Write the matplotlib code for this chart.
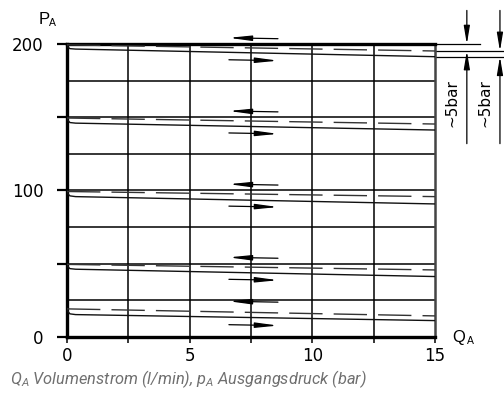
import matplotlib
matplotlib.use('Agg')
import matplotlib.pyplot as plt

plt.rcParams['mathtext.fontset'] = 'custom'
plt.rcParams['mathtext.it'] = 'Roboto:italic'
plt.rcParams['mathtext.rm'] = 'Roboto'

# flow Q_A (l/min) and outlet pressure p_A (bar)
x_hook = [0, 0.03, 0.12, 0.35, 15]
x_dash = [0, 15]

solid_200 = [200, 198.0, 196.9, 196.6, 191.4]
dash_200 = [199.5, 195.3]
solid_150 = [150, 148.0, 146.4, 146.0, 141.3]
dash_150 = [149.5, 145.4]
solid_100 = [100, 97.8, 96.3, 95.8, 90.8]
dash_100 = [99.3, 95.8]
solid_50 = [50, 48.0, 46.6, 46.2, 41.2]
dash_50 = [49.5, 45.7]
solid_20 = [19.6, 17.5, 15.7, 15.2, 11.1]
dash_20 = [19.1, 14.3]

solids = [solid_200, solid_150, solid_100, solid_50, solid_20]
dashes = [dash_200, dash_150, dash_100, dash_50, dash_20]
arrow_left_y = [204, 154, 104, 54, 24]
arrow_right_y = [189, 139, 89, 39, 8]

fig = plt.figure(figsize=(5.04, 4.01), dpi=100)
ax = fig.add_axes([0.133, 0.160, 0.730, 0.730])
ax.set_xlim(0, 15)
ax.set_ylim(0, 200)

# grid
for gx in [2.5, 5, 7.5, 10, 12.5]:
    ax.axvline(gx, color='black', lw=1.1, zorder=1)
for gy in [25, 50, 75, 100, 125, 150, 175]:
    ax.axhline(gy, color='black', lw=1.1, zorder=1)

for s, d in zip(solids, dashes):
    ax.plot(x_hook, s, color='#111111', lw=1.0, zorder=3)
    ax.plot(x_dash, d, color='#333333', lw=1.0, dashes=(24, 8), zorder=3)

aprops = dict(arrowstyle='-|>,head_length=1.1,head_width=0.13',
              color='black', lw=0.9, mutation_scale=12, shrinkA=0, shrinkB=0)
for yl, yr in zip(arrow_left_y, arrow_right_y):
    ax.annotate('', xy=(6.6, yl + 0.3), xytext=(8.6, yl - 0.3), arrowprops=aprops,
                annotation_clip=False)
    ax.annotate('', xy=(8.6, yr - 0.3), xytext=(6.6, yr + 0.3), arrowprops=aprops,
                annotation_clip=False)

# ~5bar dimensions on the right
top_d = dash_200[-1]
top_s = solid_200[-1]
ax.plot([15, 16.85], [200, 200], color='black', lw=0.9, clip_on=False)
ax.plot([15, 17.85], [top_d, top_d], color='black', lw=0.9, clip_on=False)
ax.plot([15, 17.85], [top_s, top_s], color='black', lw=0.9, clip_on=False)
dprops = dict(arrowstyle='-|>,head_length=0.9,head_width=0.15',
              color='black', lw=0.9, mutation_scale=12, shrinkA=0, shrinkB=0)
ax.annotate('', xy=(16.3, 200), xytext=(16.3, 223), arrowprops=dprops,
            annotation_clip=False)
ax.annotate('', xy=(16.3, top_d), xytext=(16.3, 132), arrowprops=dprops,
            annotation_clip=False)
ax.annotate('', xy=(17.65, top_d), xytext=(17.65, 223), arrowprops=dprops,
            annotation_clip=False)
ax.annotate('', xy=(17.65, top_s), xytext=(17.65, 132), arrowprops=dprops,
            annotation_clip=False)
ax.text(15.7, 160, '~5bar', rotation=90, ha='center', va='center',
        fontsize=11, clip_on=False)
ax.text(17.05, 160, '~5bar', rotation=90, ha='center', va='center',
        fontsize=11, clip_on=False)

# axes frame
for side in ['top', 'bottom', 'left']:
    ax.spines[side].set_linewidth(2.4)
ax.spines['right'].set_linewidth(1.8)
ax.spines['right'].set_color('#444444')

ax.set_xticks([0, 2.5, 5, 7.5, 10, 12.5, 15])
ax.set_xticklabels(['0', '', '5', '', '10', '', '15'], fontsize=12)
ax.set_yticks([0, 50, 100, 150, 200])
ax.set_yticklabels(['0', '', '100', '', '200'], fontsize=12)
ax.tick_params(axis='x', length=4, width=1.1, pad=3)
ax.tick_params(axis='y', length=7, width=1.6, pad=10)

ax.text(-0.95, 212, 'P', fontsize=12, ha='center', va='bottom', family='Liberation Sans')
ax.text(-0.6, 211, 'A', fontsize=7.5, ha='center', va='bottom', family='Liberation Sans')
ax.text(15.95, -5.5, 'Q', fontsize=12, ha='center', va='bottom', family='Liberation Sans')
ax.text(16.45, -6.5, 'A', fontsize=7.5, ha='center', va='bottom', family='Liberation Sans')

fig.text(0.02, 0.042, r'Q$_A$ Volumenstrom (l/min), p$_A$ Ausgangsdruck (bar)',
         fontsize=11.8, style='italic', color='#707070', family='Roboto',
         va='baseline')

fig.savefig('out.png', dpi=100)
